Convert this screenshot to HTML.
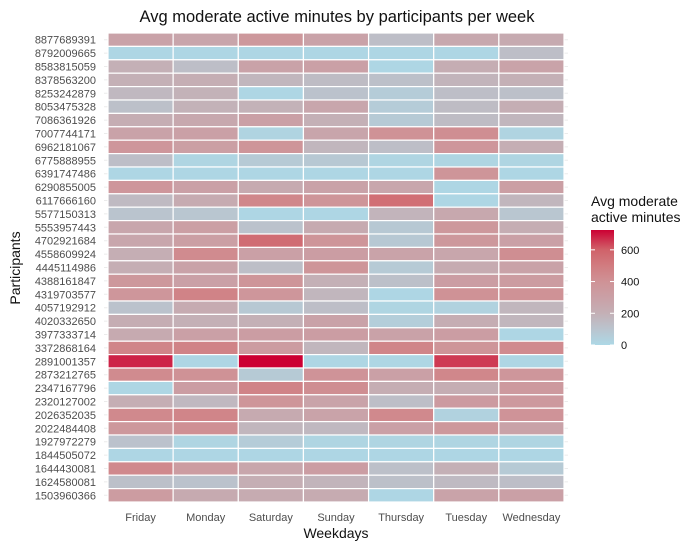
<!DOCTYPE html>
<html><head><meta charset="utf-8"><style>
body{margin:0;background:#fff;font-family:"Liberation Sans",sans-serif}
</style></head><body>
<svg id="chart" width="700" height="548" xmlns="http://www.w3.org/2000/svg" font-family="Liberation Sans, sans-serif">
<text x="337" y="22" font-size="16.5" text-anchor="middle" fill="#111">Avg moderate active minutes by participants per week</text>
<text x="336" y="538" font-size="14" text-anchor="middle" fill="#111">Weekdays</text>
<text transform="translate(20,268) rotate(-90)" font-size="14" text-anchor="middle" fill="#111">Participants</text>
<g id="grid"></g><g id="tiles"></g><g id="ylab"></g><g id="xlab"></g>
<g>
<text x="591" y="206" font-size="14" fill="#111">Avg moderate</text>
<text x="591" y="222" font-size="14" fill="#111">active minutes</text>
<defs><linearGradient id="lg" x1="0" y1="1" x2="0" y2="0"></linearGradient></defs>
<rect x="591" y="230" width="23" height="115" fill="url(#lg)"/>
<g id="legticks"></g>
</g>
</svg>
<script>
const days=["Friday","Monday","Saturday","Sunday","Thursday","Tuesday","Wednesday"];
const participants=["8877689391","8792009665","8583815059","8378563200","8253242879","8053475328","7086361926","7007744171","6962181067","6775888955","6391747486","6290855005","6117666160","5577150313","5553957443","4702921684","4558609924","4445114986","4388161847","4319703577","4057192912","4020332650","3977333714","3372868164","2891001357","2873212765","2347167796","2320127002","2026352035","2022484408","1927972279","1844505072","1644430081","1624580081","1503960366"];
const values=[
[290,270,360,290,130,250,240],
[10,10,10,10,10,10,130],
[200,130,290,300,10,220,280],
[200,210,170,140,120,180,200],
[160,190,10,110,60,130,120],
[120,190,190,260,60,140,210],
[220,250,300,200,70,140,170],
[290,300,20,270,400,420,20],
[370,310,380,170,130,370,210],
[130,15,70,80,15,15,15],
[10,10,10,10,10,380,10],
[370,300,240,290,260,10,310],
[150,230,450,380,550,10,170],
[100,90,10,10,180,250,90],
[260,310,110,240,80,360,220],
[260,310,560,380,80,360,300],
[210,430,300,320,280,260,420],
[210,290,130,380,70,230,290],
[360,300,380,200,120,320,330],
[370,470,370,170,10,400,400],
[110,230,80,130,15,30,170],
[220,200,200,290,50,220,170],
[240,300,320,320,290,320,10],
[460,470,330,170,460,380,430],
[680,10,725,10,10,650,10],
[430,400,70,390,300,450,370],
[10,320,470,420,220,220,350],
[210,160,380,280,130,340,350],
[440,460,240,280,440,30,390],
[360,410,170,160,300,360,290],
[110,15,60,15,15,15,15],
[10,10,10,10,10,10,10],
[440,330,260,320,120,200,70],
[120,110,210,180,120,150,130],
[330,240,230,230,10,280,300]];
const legendTicks=[0,200,400,600];

const NS="http://www.w3.org/2000/svg";
const X0=108,X1=564,Y0=33,Y1=502;
const cw=(X1-X0)/days.length, rh=(Y1-Y0)/participants.length;
const xPos=i=>X0+i*cw, yPos=j=>Y0+j*rh;
const stops=[[0,[173,216,230]],[100,[186,196,206]],[200,[196,176,182]],[300,[202,160,166]],[400,[207,146,150]],[500,[209,124,128]],[600,[208,98,106]],[725,[204,0,51]]];
function color(v){for(let k=1;k<stops.length;k++){if(v<=stops[k][0]||k==stops.length-1){const a=stops[k-1],b=stops[k];let t=(v-a[0])/(b[0]-a[0]);t=Math.max(0,Math.min(1,t));return "rgb("+a[1].map((c,i)=>Math.round(c+(b[1][i]-c)*t)).join(",")+")";}}}
function mk(tag,attrs,parent){const e=document.createElementNS(NS,tag);for(const k in attrs)e.setAttribute(k,attrs[k]);parent.appendChild(e);return e;}
const grid=document.getElementById('grid'),tiles=document.getElementById('tiles'),yl=document.getElementById('ylab'),xl=document.getElementById('xlab');
participants.forEach((p,j)=>{
 const cy=yPos(j)+rh/2;
 const g=mk('line',{x1:X0-4,x2:X1+4,y1:cy,y2:cy,stroke:'#ebebeb','stroke-width':1},grid);
 
 
 const t=mk('text',{x:96,y:cy+4,'font-size':11,'text-anchor':'end',fill:'#4d4d4d'},yl);
 t.textContent=p;
 
 
 days.forEach((d,i)=>{
  const r=mk('rect',{x:xPos(i),y:yPos(j),width:cw,height:rh,fill:color(values[j][i]),stroke:'#fff','stroke-width':1.2},tiles);
  
  
 });
});
days.forEach((d,i)=>{
 const t=mk('text',{x:xPos(i)+cw/2,y:521,'font-size':11,'text-anchor':'middle',fill:'#4d4d4d'},xl);
 t.textContent=d;
 
 
});
const lg=document.getElementById('lg');
stops.forEach(s=>{mk('stop',{offset:(s[0]/725),'stop-color':'rgb('+s[1].join(',')+')'},lg);});
const lt=document.getElementById('legticks');
legendTicks.forEach(v=>{
 const y=345-v/725*115;
 mk('line',{x1:591,x2:595,y1:y,y2:y,stroke:'#fff'},lt);
 mk('line',{x1:610,x2:614,y1:y,y2:y,stroke:'#fff'},lt);
 const t=mk('text',{x:621,y:y+4,'font-size':11,fill:'#111'},lt);
 t.textContent=v;
 
 
});
</script>
</body></html>
